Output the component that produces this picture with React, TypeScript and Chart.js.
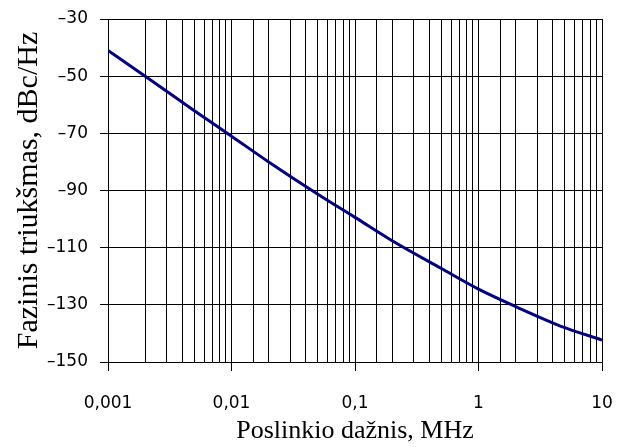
import React, { useEffect, useRef } from "react";
import { Chart, registerables } from "chart.js";

Chart.register(...registerables);

const freqs = [0.001, 0.002, 0.005, 0.01, 0.02, 0.05, 0.1, 0.2, 0.5, 1, 2, 5, 10];
const noise = [-41, -50, -62.1, -71, -80, -91.3, -99.4, -107.6, -117.3, -124.5, -130.6, -138, -142.3];
const yTicks = [-150, -130, -110, -90, -70, -50, -30];
const xTitle = "Poslinkio dažnis, MHz";
const yTitle = "Fazinis triukšmas, dBc/Hz";

const isDecade = (v: number) => Math.abs(Math.log10(v) - Math.round(Math.log10(v))) < 1e-6;

export default function App() {
  const ref = useRef<HTMLCanvasElement | null>(null);
  useEffect(() => {
    document.body.style.margin = "0";
    const ctx = ref.current!.getContext("2d")!;
    const chart = new Chart(ctx, {
      type: "line",
      data: {
        datasets: [
          {
            data: freqs.map((f, i) => ({ x: f, y: noise[i] })),
            borderColor: "#000080",
            borderWidth: 3,
            pointRadius: 0,
            cubicInterpolationMode: "monotone",
            fill: false,
          },
        ],
      },
      options: {
        animation: false,
        responsive: false,
        devicePixelRatio: 1,
        layout: { padding: { left: 10, top: 19, right: 18, bottom: 0 } },
        plugins: { legend: { display: false }, tooltip: { enabled: false } },
        scales: {
          x: {
            type: "logarithmic",
            min: 0.001,
            max: 10,
            afterFit: (s: any) => {
              s.height = 85;
              s.paddingLeft = 0;
              s.paddingRight = 0;
              s.paddingTop = 0;
              s.paddingBottom = 0;
            },
            border: { color: "#000", width: 1 },
            grid: {
              color: "#000",
              lineWidth: 1,
              tickLength: 9,
              tickColor: (c: any) => (c.tick && isDecade(c.tick.value) ? "#000" : "rgba(0,0,0,0)"),
            },
            ticks: {
              autoSkip: false,
              maxRotation: 0,
              minRotation: 0,
              padding: 22,
              color: "#000",
              font: { family: "DejaVu Sans", size: 17 },
              callback: (v: any) => {
                const n = Number(v);
                if (!isDecade(n)) return "";
                const e = Math.round(Math.log10(n));
                const val = Math.pow(10, e);
                return e < 0 ? val.toFixed(-e).replace(".", ",") : String(val);
              },
            },
            title: {
              display: true,
              text: xTitle,
              color: "#000",
              font: { family: "Liberation Serif", size: 26, lineHeight: 0.9 },
            },
          },
          y: {
            type: "linear",
            min: -150,
            max: -30,
            afterFit: (s: any) => {
              s.width = 98;
              s.paddingLeft = 0;
              s.paddingRight = 0;
              s.paddingTop = 0;
              s.paddingBottom = 0;
            },
            afterBuildTicks: (s: any) => {
              s.ticks = yTicks.map((v) => ({ value: v }));
            },
            border: { color: "#000", width: 1 },
            grid: { color: "#000", lineWidth: 1, tickLength: 8, tickColor: "#000" },
            ticks: {
              padding: 12,
              color: "#000",
              font: { family: "DejaVu Sans", size: 17 },
              callback: (v: any) => "\u2013" + Math.abs(Number(v)),
            },
            title: {
              display: true,
              text: yTitle,
              color: "#000",
              font: { family: "Liberation Serif", size: 30, lineHeight: 1 },
            },
          },
        },
      },
    } as any);
    return () => chart.destroy();
  }, []);
  return (
    <div style={{ width: 620, height: 447 }}>
      <canvas ref={ref} width={620} height={447} style={{ display: "block" }} />
    </div>
  );
}
